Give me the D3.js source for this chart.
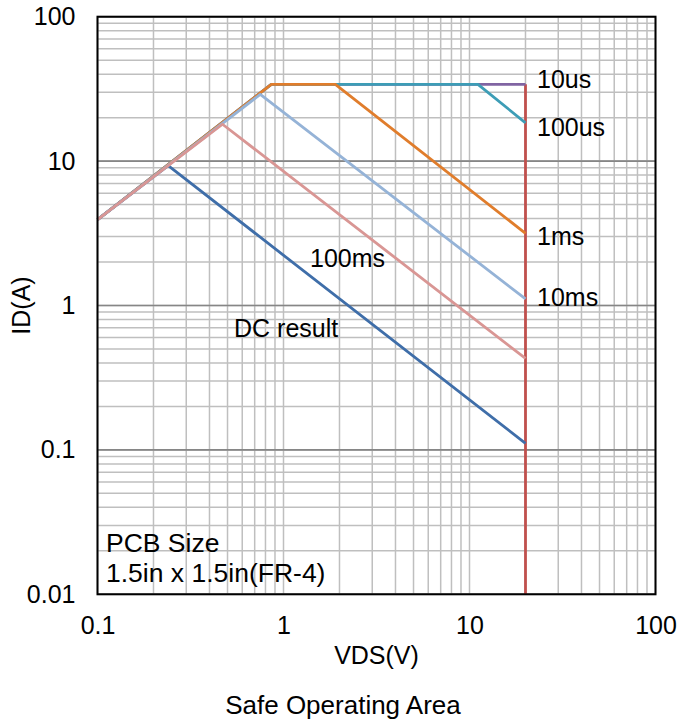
<!DOCTYPE html>
<html>
<head>
<meta charset="utf-8">
<script src="https://cdn.jsdelivr.net/npm/d3@7"></script>
<style>
  html, body { margin: 0; padding: 0; background: #fff; }
  text { font-family: "Liberation Sans", Arial, sans-serif; fill: #000; }
</style>
</head>
<body>
<svg id="chart" width="680" height="720"></svg>
<script>
// ---- Data ----
const xTickValues = [0.1, 1, 10, 100];
const yTickValues = [0.01, 0.1, 1, 10, 100];
const xTickLabels = ["0.1", "1", "10", "100"];
const yTickLabels = ["0.01", "0.1", "1", "10", "100"];

const seriesNames = ["BVDSS", "10us", "100us", "1ms", "DC result", "10ms", "100ms"];
const bvdssVds = [20, 20];
const bvdssId  = [34, 0.01];
const us10Vds  = [0.1, 0.86, 20];
const us10Id   = [3.93, 34, 34];
const us100Vds = [0.1, 0.86, 11.1, 20];
const us100Id  = [3.93, 34, 34, 18.4];
const ms1Vds   = [0.1, 0.86, 1.9, 20];
const ms1Id    = [3.93, 34, 34, 3.16];
const dcVds    = [0.1, 0.24, 20];
const dcId     = [3.93, 9.3, 0.111];
const ms10Vds  = [0.1, 0.75, 20];
const ms10Id   = [3.93, 29, 1.11];
const ms100Vds = [0.1, 0.47, 20];
const ms100Id  = [3.93, 18, 0.43];

const seriesColors = ["#c0504d", "#8064a2", "#3d9db6", "#e07d2c", "#3f6ea9", "#95b3d7", "#d99694"];

// ---- Layout ----
const svg = d3.select("#chart");
const L = 97.5, R = 655.5, T = 16.7, B = 594.3;
const FS = 25;

const x = d3.scaleLog().domain([0.1, 100]).range([L, R]);
const y = d3.scaleLog().domain([0.01, 100]).range([B, T]);

// grid
const gGrid = svg.append("g");
const xMinor = x.ticks();
const yMinor = y.ticks();
gGrid.selectAll("line.vx").data(xMinor).join("line")
  .attr("x1", d => x(d)).attr("x2", d => x(d))
  .attr("y1", T).attr("y2", B)
  .attr("stroke", "#bfbfbf").attr("stroke-width", 1.5);
gGrid.selectAll("line.hy").data(yMinor).join("line")
  .attr("x1", L).attr("x2", R)
  .attr("y1", d => y(d)).attr("y2", d => y(d))
  .attr("stroke", "#bfbfbf").attr("stroke-width", 1.5);
gGrid.selectAll("line.hmaj").data(yTickValues).join("line")
  .attr("x1", L).attr("x2", R)
  .attr("y1", d => y(d)).attr("y2", d => y(d))
  .attr("stroke", "#868686").attr("stroke-width", 1.6);

// series
const seriesData = [
  d3.zip(bvdssVds, bvdssId),
  d3.zip(us10Vds, us10Id),
  d3.zip(us100Vds, us100Id),
  d3.zip(ms1Vds, ms1Id),
  d3.zip(dcVds, dcId),
  d3.zip(ms10Vds, ms10Id),
  d3.zip(ms100Vds, ms100Id)
];
const line = d3.line().x(d => x(d[0])).y(d => y(d[1]));
svg.append("g").selectAll("path").data(seriesData).join("path")
  .attr("d", line)
  .attr("fill", "none")
  .attr("stroke", (d, i) => seriesColors[i])
  .attr("stroke-width", 2.8)
  .attr("stroke-linejoin", "round");

// border
svg.append("rect").attr("x", L).attr("y", T).attr("width", R - L).attr("height", B - T)
  .attr("fill", "none").attr("stroke", "#000").attr("stroke-width", 2);

// axes
const xAxis = d3.axisBottom(x).tickValues(xTickValues).tickSize(0).tickPadding(22)
  .tickFormat((d, i) => xTickLabels[i]);
const gx = svg.append("g").attr("transform", `translate(0,${B})`).call(xAxis);
gx.select(".domain").remove();
gx.selectAll("text").attr("font-size", FS).attr("font-family", "Liberation Sans, Arial, sans-serif").attr("fill", "#000");

const yAxis = d3.axisLeft(y).tickValues(yTickValues).tickSize(0).tickPadding(22)
  .tickFormat((d, i) => yTickLabels[i]);
const gy = svg.append("g").attr("transform", `translate(${L},0)`).call(yAxis);
gy.select(".domain").remove();
gy.selectAll("text").attr("font-size", FS).attr("font-family", "Liberation Sans, Arial, sans-serif").attr("fill", "#000");

// axis titles
svg.append("text").attr("x", (L + R) / 2).attr("y", 664).attr("text-anchor", "middle")
  .attr("font-size", FS).text("VDS(V)");
svg.append("text").attr("transform", `translate(30,${(T + B) / 2}) rotate(-90)`)
  .attr("text-anchor", "middle").attr("font-size", FS).text("ID(A)");
svg.append("text").attr("x", 343).attr("y", 714).attr("text-anchor", "middle")
  .attr("font-size", 26).text("Safe Operating Area");

// series labels
const labelText = ["10us", "100us", "1ms", "10ms", "100ms", "DC result"];
const labelX = [537, 537, 537, 537, 310, 234];
const labelY = [88, 136, 245, 306, 267, 337];
svg.append("g").selectAll("text").data(labelText).join("text")
  .attr("x", (d, i) => labelX[i]).attr("y", (d, i) => labelY[i])
  .attr("font-size", FS).text(d => d);

// note
svg.append("text").attr("x", 106).attr("y", 552).attr("font-size", 26.5).text("PCB Size");
svg.append("text").attr("x", 106).attr("y", 582).attr("font-size", 26.5).text("1.5in x 1.5in(FR-4)");
</script>
</body>
</html>
